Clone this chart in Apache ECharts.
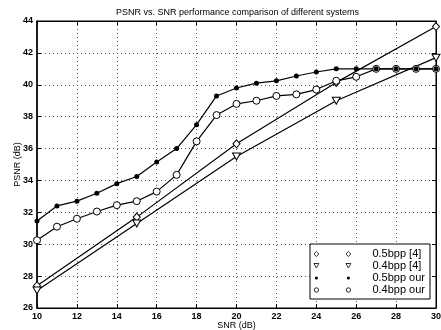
<!DOCTYPE html>
<html>
<head>
<meta charset="utf-8">
<script src="https://cdn.jsdelivr.net/npm/echarts@6/dist/echarts.min.js"></script>
<style>
  html, body { margin: 0; padding: 0; background: #fff; }
  #chart { width: 441px; height: 330px; }
</style>
</head>
<body>
<div id="chart"></div>
<script>
// SNR (dB) values
const snrOur = [10, 11, 12, 13, 14, 15, 16, 17, 18, 19, 20, 21, 22, 23, 24, 25, 26, 27, 28, 29, 30];
const snrRef = [10, 15, 20, 25, 30];

// PSNR (dB) values
const psnrOur05 = [31.45, 32.4, 32.7, 33.2, 33.8, 34.25, 35.15, 36.0, 37.5, 39.3, 39.8, 40.1, 40.25, 40.55, 40.8, 41.0, 41.0, 41.0, 41.0, 41.0, 41.0];
const psnrOur04 = [30.25, 31.1, 31.6, 32.05, 32.45, 32.7, 33.3, 34.35, 36.45, 38.1, 38.8, 39.0, 39.3, 39.4, 39.7, 40.25, 40.5, 41.0, 41.0, 41.0, 41.0];
const psnrRef05 = [27.4, 31.7, 36.3, 40.15, 43.65];
const psnrRef04 = [27.1, 31.3, 35.5, 39.0, 41.7];

const seriesNames = ['0.5bpp [4]', '0.4bpp [4]', '0.5bpp our', '0.4bpp our'];

const font = 'Liberation Sans, Arial, Helvetica, sans-serif';
const pairs = (xs, ys) => xs.map((x, i) => [x, ys[i]]);

// legend icons: two markers side by side (MATLAB style), the bare moveTo's fix the box at 54x8
const box = ' M0 0 M54 8';
const iconDiamond = 'path://M3 1.5 L5.5 4 L3 6.5 L0.5 4 Z M35 1.5 L37.5 4 L35 6.5 L32.5 4 Z' + box;
const iconTri = 'path://M0.5 1.5 L5.5 1.5 L3 6 Z M32.5 1.5 L37.5 1.5 L35 6 Z' + box;
const iconDot = 'path://M1.5 4 A1.5 1.5 0 1 0 4.5 4 A1.5 1.5 0 1 0 1.5 4 Z M33.5 4 A1.5 1.5 0 1 0 36.5 4 A1.5 1.5 0 1 0 33.5 4 Z' + box;
const iconCircle = 'path://M0.8 4 A2.2 2.2 0 1 0 5.2 4 A2.2 2.2 0 1 0 0.8 4 Z M32.8 4 A2.2 2.2 0 1 0 37.2 4 A2.2 2.2 0 1 0 32.8 4 Z' + box;

const chart = echarts.init(document.getElementById('chart'), null, { renderer: 'canvas' });

const gridLine = { show: true, lineStyle: { color: '#555', type: [1, 3], width: 1 } };

const hollow = { color: '#fff', borderColor: '#000', borderWidth: 1 };

chart.setOption({
  backgroundColor: '#fff',
  animation: false,
  title: {
    text: 'PSNR vs. SNR performance comparison of different systems',
    left: 116,
    top: 8,
    padding: 0,
    textStyle: { fontFamily: font, fontSize: 9, fontWeight: 'normal', color: '#000' }
  },
  grid: {
    left: 37, right: 5, top: 21, bottom: 22,
    containLabel: false,
    outerBoundsMode: 'none',
    show: true, borderColor: '#000', borderWidth: 1
  },
  legend: {
    orient: 'vertical',
    left: 310,
    top: 244,
    padding: [4, 5, 3, 3],
    itemGap: 0,
    itemWidth: 54,
    itemHeight: 8,
    backgroundColor: '#fff',
    borderColor: '#000',
    borderWidth: 1,
    borderRadius: 0,
    itemStyle: { borderWidth: 0.8 },
    textStyle: { fontFamily: font, fontSize: 11, color: '#000', lineHeight: 12 },
    data: [
      { name: seriesNames[0], icon: iconDiamond },
      { name: seriesNames[1], icon: iconTri },
      { name: seriesNames[2], icon: iconDot },
      { name: seriesNames[3], icon: iconCircle }
    ]
  },
  xAxis: [
    {
      type: 'value', min: 10, max: 30, interval: 2,
      name: 'SNR (dB)', nameLocation: 'middle', nameGap: 13, nameMoveOverlap: false,
      nameTextStyle: { fontFamily: font, fontSize: 9, color: '#000' },
      axisLine: { lineStyle: { color: '#000', width: 1 } },
      axisTick: { inside: true, length: 4, lineStyle: { color: '#000' } },
      axisLabel: { fontFamily: font, fontSize: 9, fontWeight: 'bold', color: '#000', margin: 4 },
      splitLine: gridLine
    },
    {
      type: 'value', min: 10, max: 30, interval: 2, position: 'top',
      axisLine: { lineStyle: { color: '#000' } },
      axisTick: { inside: true, length: 4, lineStyle: { color: '#000' } },
      axisLabel: { show: false },
      splitLine: { show: false }
    }
  ],
  yAxis: [
    {
      type: 'value', min: 26, max: 44, interval: 2,
      name: 'PSNR (dB)', nameLocation: 'middle', nameGap: 15, nameMoveOverlap: false,
      nameTextStyle: { fontFamily: font, fontSize: 9, color: '#000' },
      axisLine: { show: true, lineStyle: { color: '#000', width: 1.5 } },
      axisTick: { show: true, inside: true, length: 4, lineStyle: { color: '#000' } },
      axisLabel: { fontFamily: font, fontSize: 9, fontWeight: 'bold', color: '#000', margin: 4 },
      splitLine: gridLine
    },
    {
      type: 'value', min: 26, max: 44, interval: 2, position: 'right',
      axisLine: { show: true, lineStyle: { color: '#000' } },
      axisTick: { show: true, inside: true, length: 4, lineStyle: { color: '#000' } },
      axisLabel: { show: false },
      splitLine: { show: false }
    }
  ],
  series: [
    {
      name: seriesNames[0], type: 'line', data: pairs(snrRef, psnrRef05),
      symbol: 'diamond', symbolSize: [7, 8],
      lineStyle: { color: '#000', width: 1.2 }, itemStyle: hollow
    },
    {
      name: seriesNames[1], type: 'line', data: pairs(snrRef, psnrRef04),
      symbol: 'path://M0 0 L10 0 L5 9 Z', symbolSize: [8, 7],
      lineStyle: { color: '#000', width: 1.2 }, itemStyle: hollow
    },
    {
      name: seriesNames[3], type: 'line', data: pairs(snrOur, psnrOur04),
      symbol: 'circle', symbolSize: 7,
      lineStyle: { color: '#000', width: 1.2 }, itemStyle: hollow
    },
    {
      name: seriesNames[2], type: 'line', data: pairs(snrOur, psnrOur05),
      symbol: 'circle', symbolSize: 5,
      lineStyle: { color: '#000', width: 1.2 }, itemStyle: { color: '#000' }
    }
  ]
});
</script>
</body>
</html>
